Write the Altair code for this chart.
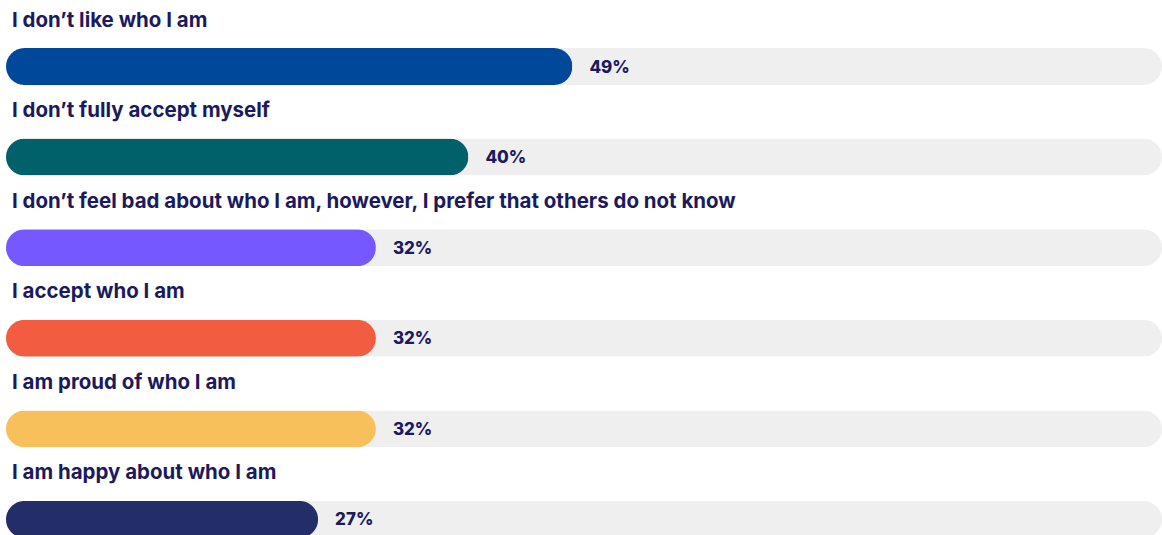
import altair as alt
import pandas as pd

# Survey answers and their shares (%)
statements = [
    "I don’t like who I am",
    "I don’t fully accept myself",
    "I don’t feel bad about who I am, however, I prefer that others do not know",
    "I accept who I am",
    "I am proud of who I am",
    "I am happy about who I am",
]
shares = [49, 40, 32, 32, 32, 27]
bar_colors = ["#00489a", "#00616a", "#7558ff", "#f25c40", "#f8c05a", "#232d68"]

df = pd.DataFrame({
    "statement": statements,
    "share": shares,
    "color": bar_colors,
    "full": [100] * len(statements),
    "zero": [0] * len(statements),
    "label": [f"{v}%" for v in shares],
})

TEXT = "#1c1a5e"
FONT = "Inter"

y = alt.Y("statement:N", sort=statements, axis=None,
          scale=alt.Scale(paddingInner=0, paddingOuter=0))
x_scale = alt.Scale(domain=[0, 100], nice=False, zero=True)

track = alt.Chart(df).mark_bar(height=37, cornerRadius=18.5, color="#efefef").encode(
    x=alt.X("full:Q", scale=x_scale, axis=None),
    y=y,
)

bars = alt.Chart(df).mark_bar(height=37, cornerRadius=18.5).encode(
    x=alt.X("share:Q", scale=x_scale, axis=None),
    y=y,
    color=alt.Color("color:N", scale=None),
)

values = alt.Chart(df).mark_text(
    align="left", baseline="middle", dx=17, dy=1,
    font=FONT, fontSize=17, fontWeight=800, color=TEXT,
).encode(
    x=alt.X("share:Q", scale=x_scale, axis=None),
    y=y,
    text="label:N",
)

titles = alt.Chart(df).mark_text(
    align="left", baseline="middle", dx=6, dy=-46,
    font=FONT, fontSize=20.5, fontWeight=700, color=TEXT,
).encode(
    x=alt.X("zero:Q", scale=x_scale, axis=None),
    y=y,
    text="statement:N",
)

chart = alt.layer(track, bars, values, titles).properties(
    width=1157,
    height=544,
    autosize=alt.AutoSizeParams(type="none"),
    padding={"left": 6, "top": 21, "right": 0, "bottom": 0},
).configure(background="white").configure_view(strokeWidth=0, stroke="transparent")

chart.save("out.html", embed_options={"renderer": "svg", "actions": False})
